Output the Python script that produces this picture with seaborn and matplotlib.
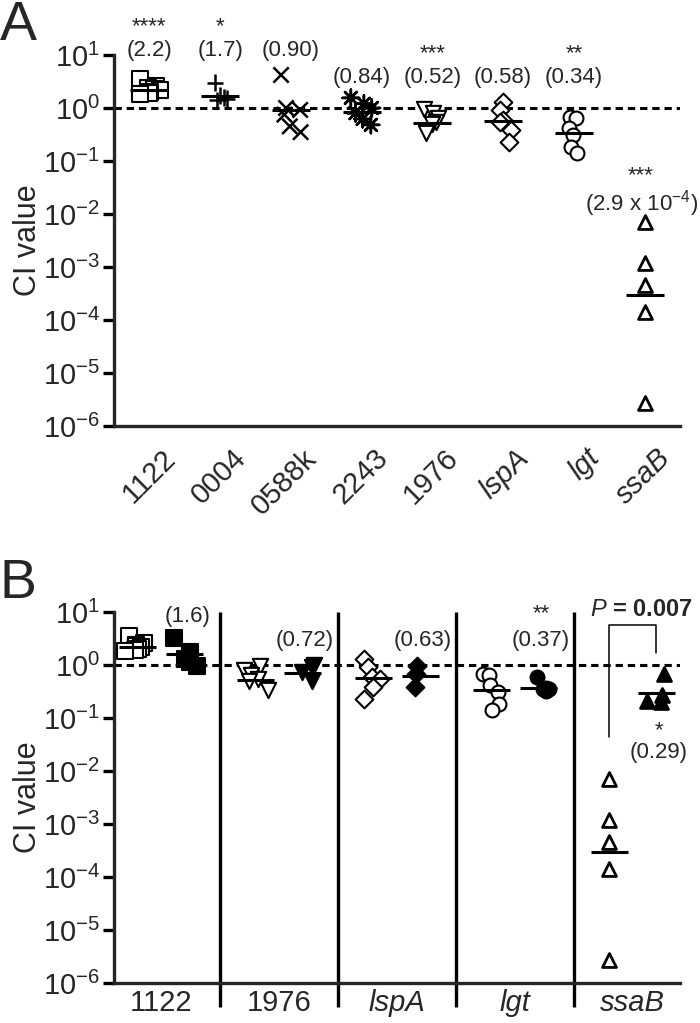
"""
Competitive index (CI) plots - panel A: single mutants, panel B: with complemented strains
"""
import numpy as np
import pandas as pd
import matplotlib
matplotlib.use("Agg")
import matplotlib.pyplot as plt
import matplotlib.ticker as mticker
from matplotlib.transforms import blended_transform_factory, ScaledTranslation
import seaborn as sns

# ── Style ──────────────────────────────────────────────────────────────────
sns.set_theme(style="ticks")
plt.rcParams["font.family"] = ["Liberation Sans", "DejaVu Sans"]
plt.rcParams["mathtext.fontset"] = "custom"
plt.rcParams["mathtext.rm"] = "Liberation Sans"
plt.rcParams["mathtext.it"] = "Liberation Sans:italic"
plt.rcParams["mathtext.bf"] = "Liberation Sans:bold"
np.random.seed(7)   # fixed jitter

# ── Data: panel A ──────────────────────────────────────────────────────────
strains_a = ["1122", "0004", "0588k", "2243", "1976", "lspA", "lgt", "ssaB"]
ci_1122 = [3.5, 2.6, 2.4, 2.3, 2.2, 2.0, 1.9, 1.8]
ci_0004 = [3.0, 1.7, 1.6, 1.5, 1.4]
ci_0588k = [4.2, 1.0, 0.92, 0.75, 0.45, 0.35]
ci_2243 = [1.55, 1.2, 1.0, 0.8, 0.62, 0.48]
ci_1976 = [0.95, 0.8, 0.65, 0.55, 0.5, 0.34]
ci_lspA = [1.3, 0.92, 0.6, 0.55, 0.38, 0.23]
ci_lgt = [0.68, 0.64, 0.42, 0.31, 0.18, 0.14]
ci_ssaB = [7e-3, 1.2e-3, 4.6e-4, 1.4e-4, 2.7e-6]
means_a = [2.2, 1.7, 0.90, 0.84, 0.52, 0.58, 0.34, 2.9e-4]
stars_a = ["****", "*", "", "", "***", "", "**", "***"]
labels_a = ["(2.2)", "(1.7)", "(0.90)", "(0.84)", "(0.52)", "(0.58)", "(0.34)",
            r"(2.9 x 10$^{-4}$)"]

# ── Data: panel B ──────────────────────────────────────────────────────────
groups_b = ["1122", "1976", "lspA", "lgt", "ssaB"]
comp_1122 = [3.2, 1.76, 1.3, 1.14, 0.96]
comp_1976 = [1.0, 0.92, 0.74, 0.5]
comp_lspA = [0.96, 0.68, 0.38]
comp_lgt = [0.6, 0.37, 0.36, 0.35, 0.33]
comp_ssaB = [0.68, 0.27, 0.21, 0.2]
means_b_open = [2.2, 0.52, 0.58, 0.34, 2.9e-4]
means_b_filled = [1.6, 0.72, 0.63, 0.37, 0.29]
stars_b = ["", "", "", "**", "*"]
labels_b = ["(1.6)", "(0.72)", "(0.63)", "(0.37)", "(0.29)"]
p_text = r"$\it{P}$ = 0.007"

ci_a = [ci_1122, ci_0004, ci_0588k, ci_2243, ci_1976, ci_lspA, ci_lgt, ci_ssaB]
comp_b = [comp_1122, comp_1976, comp_lspA, comp_lgt, comp_ssaB]

df_a = pd.DataFrame([(s, v) for s, vals in zip(strains_a, ci_a) for v in vals],
                    columns=["strain", "ci"])
open_b = dict(zip(strains_a, ci_a))
rows = []
for g, comp in zip(groups_b, comp_b):
    rows += [(g, "mutant", v) for v in open_b[g]]
    rows += [(g, "complemented", v) for v in comp]
df_b = pd.DataFrame(rows, columns=["group", "kind", "ci"])

# marker per strain: (marker, size, open?, linewidth)
MARKERS = {
    "1122": ("s", 11, True, 1.5),
    "0004": ("+", 12, False, 1.8),
    "0588k": ("x", 11, False, 1.8),
    "2243": ((8, 2, 0), 12, False, 1.8),
    "1976": ("v", 11, True, 1.5),
    "lspA": ("D", 9, True, 1.5),
    "lgt": ("o", 10, True, 1.5),
    "ssaB": ("^", 10, True, 2.0),
}
NO_JITTER = {"ssaB"}     # points stacked in a single column


def finish_collection(ax, n_before, face, lw):
    for coll in ax.collections[n_before:]:
        coll.set_facecolor(face)
        coll.set_edgecolor("black")
        coll.set_linewidth(lw)
        coll.set_zorder(3)


def style_axis(ax):
    ax.set_yscale("log")
    ax.set_ylim(1e-6, 1e1)
    ax.yaxis.set_major_locator(mticker.FixedLocator([10.0 ** k for k in range(-6, 2)]))
    ax.yaxis.set_minor_locator(mticker.NullLocator())
    sns.despine(ax=ax)
    for s in ["left", "bottom"]:
        ax.spines[s].set_linewidth(2.4)
    ax.tick_params(axis="y", length=8, width=2.4, labelsize=21, pad=2, color="black")
    ax.tick_params(axis="x", length=0, labelsize=21)
    ax.axhline(1, color="black", lw=2.2, ls=(0, (2.4, 1.6)), zorder=1)
    ax.set_ylabel("CI value", fontsize=22)
    ax.yaxis.set_label_coords(-0.125, 0.5)
    ax.set_xlabel("")
    ax.set_facecolor("white")


fig = plt.figure(figsize=(7, 10.23), dpi=100)
ax_a = fig.add_axes([114 / 700, 1 - 426 / 1023, 566 / 700, 371 / 1023])
ax_b = fig.add_axes([114 / 700, 1 - 983 / 1023, 566 / 700, 371 / 1023])

# ══════════════════════════════════════════════════════════════════════════
# Panel A
# ══════════════════════════════════════════════════════════════════════════
for s in strains_a:
    m, size, is_open, lw = MARKERS[s]
    n0 = len(ax_a.collections)
    sns.stripplot(data=df_a[df_a["strain"] == s], x="strain", y="ci", order=strains_a,
                  jitter=False if s in NO_JITTER else 0.16, marker=m, size=size,
                  color="black", linewidth=lw, log_scale=True, ax=ax_a)
    finish_collection(ax_a, n0, "white" if is_open else "none", lw)

xa = np.arange(len(strains_a))
ax_a.hlines(means_a, xa - 0.27, xa + 0.27, color="black", lw=2.2, zorder=4)
ax_a.set_xlim(-0.5, len(strains_a) - 0.5)
style_axis(ax_a)

label_y_a = [1.09, 1.09, 1.09, 0.57, 0.57, 0.57, 0.57, -1.80]
for i, (st, lab, ly) in enumerate(zip(stars_a, labels_a, label_y_a)):
    last = i == len(strains_a) - 1
    xx = i - 0.05 if last else i
    ax_a.text(xx, 10 ** ly, lab, ha="center", va="center", fontsize=16, clip_on=False)
    if st:
        ax_a.text(xx, 10 ** (ly + (0.52 if last else 0.45)), st, ha="center",
                  va="center", fontsize=16, clip_on=False)

ax_a.set_xticks(xa)
ax_a.set_xticklabels(strains_a)
offset = ScaledTranslation(0.12, -0.13, fig.dpi_scale_trans)
for lab in ax_a.get_xticklabels():
    lab.set_rotation(45)
    lab.set_ha("right")
    lab.set_va("top")
    lab.set_rotation_mode("anchor")
    lab.set_transform(lab.get_transform() + offset)
    if lab.get_text() in ("lspA", "lgt", "ssaB"):
        lab.set_fontstyle("italic")

# ══════════════════════════════════════════════════════════════════════════
# Panel B
# ══════════════════════════════════════════════════════════════════════════
kinds = ["mutant", "complemented"]
for g in groups_b:
    m, size, is_open, lw = MARKERS[g]
    for k in kinds:
        n0 = len(ax_b.collections)
        sub = df_b[(df_b["group"] == g) & (df_b["kind"] == k)]
        jit = False if (g in NO_JITTER and k == "mutant") else 0.22
        sns.stripplot(data=sub, x="group", y="ci", hue="kind", hue_order=kinds,
                      order=groups_b, dodge=True, jitter=jit, palette=["black", "black"],
                      marker=m, size=size, linewidth=lw, log_scale=True,
                      legend=False, ax=ax_b)
        face = ("white" if is_open else "none") if k == "mutant" else "black"
        finish_collection(ax_b, n0, face, lw)

xb = np.arange(len(groups_b))
ax_b.hlines(means_b_open, xb - 0.2 - 0.155, xb - 0.2 + 0.155, color="black", lw=2.2, zorder=4)
ax_b.hlines(means_b_filled, xb + 0.2 - 0.155, xb + 0.2 + 0.155, color="black", lw=2.2, zorder=4)
ax_b.set_xlim(-0.4, len(groups_b) - 0.6)
style_axis(ax_b)
ax_b.set_xticks(xb)
ax_b.set_xticklabels(groups_b)
ax_b.tick_params(axis="x", pad=4)
for lab in ax_b.get_xticklabels():
    if lab.get_text() in ("lspA", "lgt", "ssaB"):
        lab.set_fontstyle("italic")

# group separators, reaching below the axis
trans = blended_transform_factory(ax_b.transData, ax_b.transAxes)
for xs in xb[:-1] + 0.5:
    ax_b.plot([xs, xs], [-0.065, 1.0], transform=trans, color="black", lw=2.4,
              clip_on=False, solid_capstyle="butt")

label_y_b = [0.91, 0.47, 0.47, 0.47, -1.66]
for i, (st, lab, ly) in enumerate(zip(stars_b, labels_b, label_y_b)):
    ax_b.text(i + 0.22, 10 ** ly, lab, ha="center", va="center", fontsize=16, clip_on=False)
    if st:
        dy = 0.5 if ly > 0 else 0.43
        ax_b.text(i + 0.22, 10 ** (ly + dy), st, ha="center", va="center", fontsize=16,
                  clip_on=False)

# P-value bracket for ssaB
last = len(groups_b) - 1
ax_b.plot([last - 0.2, last - 0.2, last + 0.2, last + 0.2], [0.044, 5.7, 5.7, 1.7],
          color="black", lw=1.1, clip_on=False)
ax_b.text(last + 0.07, 10 ** 1.04, p_text, ha="center", va="center", fontsize=17,
          fontweight="bold", clip_on=False)

# panel letters
fig.text(0.0, 1.0, "A", fontsize=40, ha="left", va="top")
fig.text(0.0, 0.455, "B", fontsize=40, ha="left", va="top")

fig.savefig("out.png", dpi=100, facecolor="white")
